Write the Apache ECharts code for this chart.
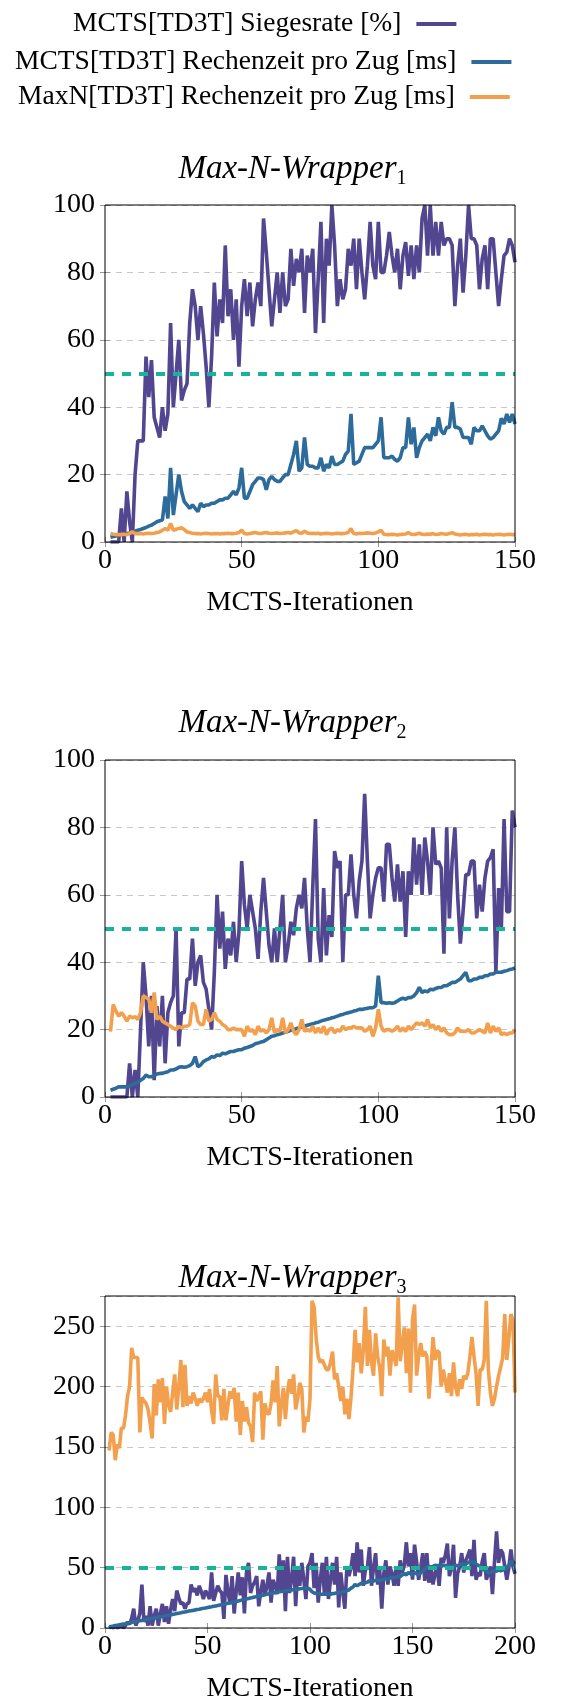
<!DOCTYPE html>
<html><head><meta charset="utf-8">
<script src="https://cdn.jsdelivr.net/npm/echarts@6/dist/echarts.min.js"></script>
<style>html,body{margin:0;padding:0;background:#fff}#c{width:585px;height:1704px}</style>
</head><body><div id="c"></div>
<script>
// ---- data ----
const seriesNames = ['MCTS[TD3T] Siegesrate [%]', 'MCTS[TD3T] Rechenzeit pro Zug [ms]', 'MaxN[TD3T] Rechenzeit pro Zug [ms]'];
const panelTitles = ['1', '2', '3'];
const xAxisName = 'MCTS-Iterationen';
const xStart = 2;
const xMax = [150, 150, 200];
const xStep = [50, 50, 50];
const yMax = [100, 100, 275];
const yStep = [20, 20, 50];
const refLine = [50, 50, 50];

const c1Win = [0,0,0,0,10,0,15,6,0,20,
30,30,30,55,43,54,37,34,31,40,
33,38,65,40,50,60,42,45,47,65,
75,70,60,70,62,52,40,55,77,61,
72,65,88,67,75,60,72,52,70,78,
67,77,64,72,77,70,96,86,75,64,
72,80,68,80,70,72,87,76,84,80,
87,68,85,80,87,62,78,95,65,90,
82,100,88,70,78,72,75,87,82,90,
75,90,80,72,82,95,82,78,95,80,
80,85,92,85,80,87,75,85,89,79,
88,78,88,80,96,100,85,100,85,95,
85,95,88,90,90,88,70,82,90,74,
85,100,90,90,88,75,84,88,75,90,
90,80,70,78,85,86,90,88,83];
const c1Mcts = [1.4,1.6,1.8,2,2.2,2.3,2.5,2.7,3,3.2,
3.5,3.7,4,4.3,4.7,5,5.5,6,6.3,6.5,
13.5,7,22,8,14,20,15,12,11,10,
11,10,9,11.5,10.5,11,11,11.5,11.5,12,
12.5,12.5,13,13,14,15,14,16,22,13,
13,15,17,18,19,19,18.5,15.5,18.5,19.5,
18.5,18,18,19,20,20,23,26,30,21,
22,31,23,22.5,22.5,22,22,25,21,23,
22,25.5,23,23,23.5,24,26,27,38,23,
23.5,24,26,28,28,28,28,29,30,37,
25,25,25,25.5,24.5,24,25,28,28,37,
29,34,25,28,30,31,32,30,34,31.5,
37,33,32,34,34,41.5,34,34,33.5,31,
31,31,29,34,33,33,34.5,33,31.5,30.5,
31,32,33,36.7,35,38,35.5,38,35];
const c1MaxN = [2.5,2.3,2.2,2.2,2.2,2.3,2.2,2.5,3,2.5,
2.5,2.5,2.4,2.5,2.6,2.5,2.6,2.8,3,3.5,
4,3.5,5.5,3.5,3.8,4,4.2,3.7,3,2.8,
2.6,2.5,2.5,2.4,2.5,2.6,2.5,2.4,2.5,2.5,
2.4,2.5,2.5,2.6,2.5,2.5,2.6,2.8,3.5,2.5,
2.4,2.5,2.7,2.8,2.6,2.5,2.7,2.8,2.6,2.5,
2.6,2.7,2.5,2.6,2.7,2.8,2.6,3,3.4,2.7,
2.6,3.2,2.7,2.5,2.6,2.5,2.6,2.4,2.5,2.6,
2.5,2.4,2.5,2.6,2.5,2.5,2.6,2.8,4,2.5,
2.4,2.6,2.5,2.6,2.7,2.6,2.5,2.7,3,3.5,
2.3,2.2,2.2,2.3,2.2,2.1,2.2,2.3,2.4,2.8,
2.3,2.2,2.4,2.6,2.3,2.2,2.4,2.3,2.5,2.2,
2.3,2.5,2.4,2.3,2.5,2.8,2.4,2.2,2.1,2.2,
2.3,2.1,2.2,2.2,2.3,2.1,2.2,2.3,2.2,2.2,
2.1,2.2,2.3,2.2,2.1,2.2,2.3,2.2,2.2];

const c2Win = [0,0,0,0,0,0,0,10,0,8,
0,20,40,30,15,30,5,27,15,30,
10,25,28,30,50,15,25,25,35,35,
47,33,40,42,34,32,26,20,37,60,
44,55,38,47,42,52,40,49,70,57,
50,60,55,50,41,55,65,55,45,40,
50,40,50,60,40,45,52,48,56,60,
56,65,50,40,62,82.5,47,40,62,42,
54,47.5,73,68,70,40,60,60,72,60,
53,64,70,90,70,53,60,65,68,68,
58,75,75,65,58,69,58,67,47.5,67,
60,77,63,75,60,77,70,60,80,69,
70,68,42.5,80,53,70,80,60,45.5,55,
66,66,70,70,53,63,55,65,70,71,
73.5,37,62,50,82.5,55,55,85,80];
const c2Mcts = [2,2.3,2.6,3,3,3,3,3.3,3.7,4,
4.3,5,5.5,6.5,6,6,6.3,6.8,7,7,
7.3,7.5,8,8,8.3,8.8,9,8.8,9,9.3,
10,12,9,9.5,10.5,11,11.3,12,11.8,12.5,
12.3,13,12.8,13.2,13.5,13.5,13.8,14,14,14.5,
14.7,15,15.3,15.8,16,16.3,16.5,17,17.5,18,
18.2,18.5,18.7,19,19.2,19.5,19.8,20,20.3,20.5,
20.8,21,21.3,21.5,21.7,22,22.2,22.5,22.8,23,
23.2,23.5,23.7,24,24.3,24.5,24.8,25,25.2,25.5,
25.7,26,26,26.2,26.3,26.5,26.5,27,36,28,
28,27.8,28,27.8,28,28.5,29,29.3,29,29.5,
29.5,30,31,32.5,31,31.5,31.2,32,31.8,32.2,
32.5,32.5,33,33,33.5,34,34,34.5,35,36,
37,34.5,34.5,35,35,35.5,35.5,36,36,36.5,
36.5,37,37,37,37.3,37.5,37.8,38,38.3];
const c2MaxN = [19.4,27.5,25.5,24,25,24,22.5,24,23.5,23.8,
23,25,30,29.5,29,25,31,23,24,22.5,
22,21.5,21,20.5,20,21,20.5,21,21,21.5,
28,27,22.5,21.5,21.5,26,22.5,23,25,23,
22.5,21.5,21,20,20,20.5,20,20,20,18,
21,19.5,20,18.5,21,19.5,20,19,20,23.5,
19,20,19.5,23.5,19,20,22,19.5,18.5,20,
23,19.5,20,19.5,21,19,20.5,19,21,18.5,
20,20.5,19,20,19.5,21,20,20.5,20.5,21,
20.5,20.5,20.5,19.5,20,21,18,20.5,26,21,
19.5,20,20,19.5,20,21,19.5,20.5,19.5,21,
20,21,22,21.5,22,21,23,20.5,21.5,20,
21,19.5,20.5,19,18.5,18.5,19,20.5,19.5,19.5,
19.5,20,19,19,19.5,20,19.5,19,22,19,
21,19.5,20.5,18.5,19,18.5,19,19,20];

const c3Win = [0,1,0,2,0,1,3,0,2,5,
3,8,16,2,6,12,36,5,10,2,
18,2,10,16,2,12,20,5,18,3.5,
15,24,14,31,25,20,21,16,20,21,
36,30,33,27,35,30,24,31,28,24,
46,22.5,29,35,31,29,7.6,44,30,20,
43,12,30,46,27,42,12,46,54,29,
35,38,43,18,30,40,27,35,46,21,
40,35,28,61,29,56,14,59,29,40,
59,18,48,35,54,40,24,51,54,62,
33,54,21,40,54,29,59,24,40,54,
36,59,17,46,30,16,51,43,50,62,
43,71,46,65,35,48,50,67,35,50,
62,36,48,16,45,56,36,51,45,35,
51,35,56,46,52,71,51,62,40,69,
55,40,50,62,39,62,37.5,51,36,45,
51,35,58,54,60,70,43,50,69,25,
45,51,62,46,56,60,65,43,73,40,
46,43,55,62,40,45,51,28,55,80,
54,65,62,51,40,50,65,51,45];
const c3Mcts = [1,1.3,1.6,2,2.3,2.6,3,3.3,3.6,4,
4.3,4.7,5,5.3,5.7,6,6.3,6.7,7,7.3,
7.6,8,8.3,8.6,9,9.3,9.6,10,10.3,10.6,
11,11.3,11.6,12,12.3,12.6,13,13.3,13.6,14,
14.3,14.6,15,15.3,15.6,16,16.3,16.6,17,17.3,
17.6,18,18.3,18.6,19,19.3,19.6,20,20.4,20.8,
21.2,21.6,22,22.4,22.8,23.2,23.6,24,24.4,24.8,
25.2,25.6,26,26.4,26.8,27.2,27.6,28,28.3,28.6,
29,29.3,29.6,30,30.2,30.5,30.8,31,31.3,31.5,
31.8,32,32.2,32.5,32.7,33,33.2,33,32,30,
29,28.5,28.3,28,28,28.2,28,28.3,28,28.5,
28.7,29,29.3,29.5,30,30.5,31,31.5,33,34,
36,35,36,37,36.5,37.5,38,39,38.5,39,
39.5,40,39,40,40.5,41,40,41.5,42,41.5,
42,43,42.5,44,45,44,46,45,44,46,
45,44,46,47,49,50,51,50.5,51,52,
51.5,52,51,52,51.5,52,51,50.5,51,52,
51.5,52,53,52.5,53,54,55,54,55,53,
52,51,50,48,47,46,46,47,47.5,47,
48,47.5,48,49,50,52,55,54,55];
const c3MaxN = [147,162,160,139,152,149,166,165,176,192,
200,232,224,224,224,162,191,188,186,181,
170,157,202,176,206,187,207,169,200,185,
179,195,210,181,200,222,183,218,184,192,
186,195,190,184,190,187,190,195,187,198,
180,169,210,192,192,172,198,172,185,196,
190,199,171,195,160,188,171,183,170,167,
154,195,188,192,196,156,186,178,177,186,
205,187,217,167,185,199,173,195,206,194,
210,181,190,203,198,162,175,171,190,271,
266,240,225,220,222,218,214,214,220,229,
206,211,200,188,200,177,190,173,191,215,
247,220,236,211,230,266,217,247,220,209,
244,225,216,192,239,225,233,209,230,225,
217,274,221,235,249,211,248,195,255,268,
209,225,236,225,229,225,190,214,241,222,
230,228,200,214,205,195,211,192,220,200,
192,206,198,209,206,211,225,241,225,211,
184,214,214,222,271,214,195,184,190,200,
209,216,224,260,222,240,260,255,195];

const panels = [[c1Win, c1Mcts, c1MaxN], [c2Win, c2Mcts, c2MaxN], [c3Win, c3Mcts, c3MaxN]];

// ---- styling / layout ----
const FONT = 'Liberation Serif';
const colors = ['#51468f', '#2c6b9a', '#f3a04e'];
const teal = '#19b39c';
const grids = [
  {left: 105, top: 205, width: 410, height: 337},
  {left: 105, top: 760, width: 410, height: 337},
  {left: 105, top: 1296, width: 410, height: 336}
];
const titleTops = [149, 703, 1258];
const legendTops = [9, 47, 82];
const legendLefts = [73, 15, 18];

const tickStyle = {show: true, inside: true, length: 5, lineStyle: {color: '#999', width: 1}};
const labelStyle = {color: '#000', fontFamily: FONT, fontSize: 28};

const option = {
  animation: false,
  backgroundColor: '#fff',
  title: panelTitles.map((sub, g) => ({
    text: '{i|Max-N-Wrapper}{s|' + sub + '}',
    left: 'center', top: titleTops[g], padding: 0,
    textStyle: {
      fontWeight: 'normal',
      rich: {
        i: {fontFamily: FONT, fontStyle: 'italic', fontWeight: 'normal', fontSize: 33, color: '#000', lineHeight: 40},
        s: {fontFamily: FONT, fontWeight: 'normal', fontSize: 20, color: '#000', lineHeight: 40, verticalAlign: 'bottom'}
      }
    }
  })),
  legend: seriesNames.map((n, k) => ({
    data: [n], left: legendLefts[k], top: legendTops[k], padding: 0,
    align: 'right', icon: 'rect', itemWidth: 40, itemHeight: 4,
    textStyle: {fontFamily: FONT, fontSize: 27.5, color: '#000', lineHeight: 30, padding: [0, 10, 0, 0]},
    selectedMode: false
  })),
  grid: grids.map(r => Object.assign({show: true, borderColor: '#000', borderWidth: 1, backgroundColor: 'transparent', z: 10}, r)),
  xAxis: [],
  yAxis: [],
  series: []
};

for (let g = 0; g < 3; g++) {
  option.xAxis.push({
    gridIndex: g, type: 'value', min: 0, max: xMax[g], interval: xStep[g],
    axisLine: {show: false}, axisTick: tickStyle,
    axisLabel: Object.assign({margin: 5}, labelStyle),
    splitLine: {show: false},
    name: xAxisName, nameLocation: 'middle', nameGap: 47,
    nameTextStyle: {fontFamily: FONT, fontSize: 28, color: '#000'}
  });
  option.xAxis.push({
    gridIndex: g, type: 'value', position: 'top', min: 0, max: xMax[g], interval: xStep[g],
    axisLine: {show: false}, axisTick: tickStyle, axisLabel: {show: false}, splitLine: {show: false}
  });
  option.yAxis.push({
    gridIndex: g, type: 'value', min: 0, max: yMax[g], interval: yStep[g],
    axisLine: {show: false}, axisTick: tickStyle,
    axisLabel: Object.assign({margin: 10, showMaxLabel: yMax[g] % yStep[g] === 0}, labelStyle),
    splitLine: {show: true, lineStyle: {color: '#c8c8c8', width: 1, type: [6, 5]}}
  });
  option.yAxis.push({
    gridIndex: g, type: 'value', position: 'right', min: 0, max: yMax[g], interval: yStep[g],
    axisLine: {show: false}, axisTick: tickStyle, axisLabel: {show: false}, splitLine: {show: false}
  });
  panels[g].forEach((arr, k) => {
    const s = {
      name: seriesNames[k], type: 'line',
      xAxisIndex: 2 * g, yAxisIndex: 2 * g,
      data: arr.map((v, i) => [xStart + i, v]),
      symbol: 'none', showSymbol: false,
      lineStyle: {color: colors[k], width: 3.6},
      itemStyle: {color: colors[k]},
      z: 2 + k
    };
    if (k === 0) {
      s.markLine = {
        silent: true, symbol: 'none', label: {show: false},
        lineStyle: {color: teal, width: 4, type: [9, 8]},
        data: [{yAxis: refLine[g]}],
        z: 5
      };
    }
    option.series.push(s);
  });
}

const chart = echarts.init(document.getElementById('c'), null, {renderer: 'canvas'});
chart.setOption(option);
</script>
</body></html>
